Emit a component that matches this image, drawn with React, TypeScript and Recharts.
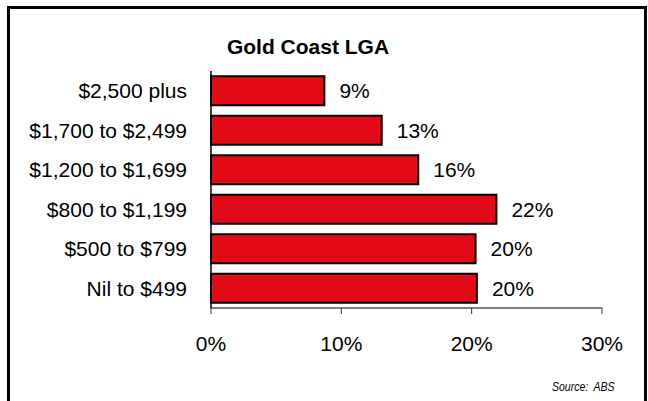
import React from 'react';
import { BarChart, Bar, XAxis, YAxis, LabelList } from 'recharts';

const categories = [
  '$2,500 plus',
  '$1,700 to $2,499',
  '$1,200 to $1,699',
  '$800 to $1,199',
  '$500 to $799',
  'Nil to $499',
];
const shares = [8.7, 13.1, 15.9, 21.9, 20.3, 20.4];
const xTicks = [0, 10, 20, 30];
const bandEdges = [0, 1, 2, 3, 4, 5, 6];

const data = categories.map((name, i) => ({ name, value: shares[i] }));

const font = '"Liberation Sans", Arial, sans-serif';

const App = () => {
  return (
    <div
      style={{
        position: 'absolute',
        left: 0,
        top: 0,
        width: 648,
        height: 401,
        overflow: 'hidden',
        background: '#fff',
        fontFamily: font,
      }}
    >
      <div
        style={{
          position: 'absolute',
          left: 7,
          top: 6,
          width: 634,
          height: 430,
          border: '3px solid #000',
        }}
      />
      <div
        style={{
          position: 'absolute',
          left: 0,
          width: 616,
          top: 35,
          textAlign: 'center',
          fontWeight: 'bold',
          fontSize: 21,
          color: '#000',
        }}
      >
        Gold Coast LGA
      </div>
      <div
        style={{
          position: 'absolute',
          right: 33,
          top: 380,
          fontStyle: 'italic',
          fontSize: 12,
          fontFamily: '"Liberation Sans Narrow", "Liberation Sans", sans-serif',
          color: '#000',
          whiteSpace: 'pre',
          transform: 'scaleX(0.875)',
          transformOrigin: 'right',
        }}
      >
        {'Source:  ABS'}
      </div>
      <div style={{ position: 'absolute', left: 0, top: 0 }}>
        <BarChart
          width={648}
          height={401}
          data={data}
          layout="vertical"
          barCategoryGap="13%"
          margin={{ top: 71, right: 46, bottom: 53, left: 0 }}
          style={{ fontFamily: font }}
        >
          <XAxis
            type="number"
            domain={[0, 30]}
            ticks={xTicks}
            tickFormatter={(v: number) => `${v}%`}
            height={40}
            tickSize={6}
            tickMargin={22}
            axisLine={{ stroke: '#000', strokeWidth: 1 }}
            tickLine={{ stroke: '#333' }}
            tick={{ fill: '#000', fontSize: 21 }}
          />
          <YAxis
            yAxisId="a"
            type="number"
            domain={[0, 6]}
            ticks={bandEdges}
            width={6}
            tick={false}
            tickSize={6}
            axisLine={{ stroke: '#000', strokeWidth: 1.5 }}
            tickLine={{ stroke: '#777' }}
          />
          <YAxis
            yAxisId="b"
            type="category"
            dataKey="name"
            width={205}
            interval={0}
            axisLine={false}
            tickLine={false}
            tickSize={0}
            tickMargin={18}
            tick={{ fill: '#000', fontSize: 21 }}
          />
          <Bar
            yAxisId="b"
            dataKey="value"
            fill="#E20A17"
            stroke="#000"
            strokeWidth={2}
            isAnimationActive={false}
          >
            <LabelList
              dataKey="value"
              position="right"
              offset={15}
              formatter={(v: number) => `${Math.round(v)}%`}
              style={{ fill: '#000', fontSize: 21 }}
            />
          </Bar>
        </BarChart>
      </div>
    </div>
  );
};

export default App;
